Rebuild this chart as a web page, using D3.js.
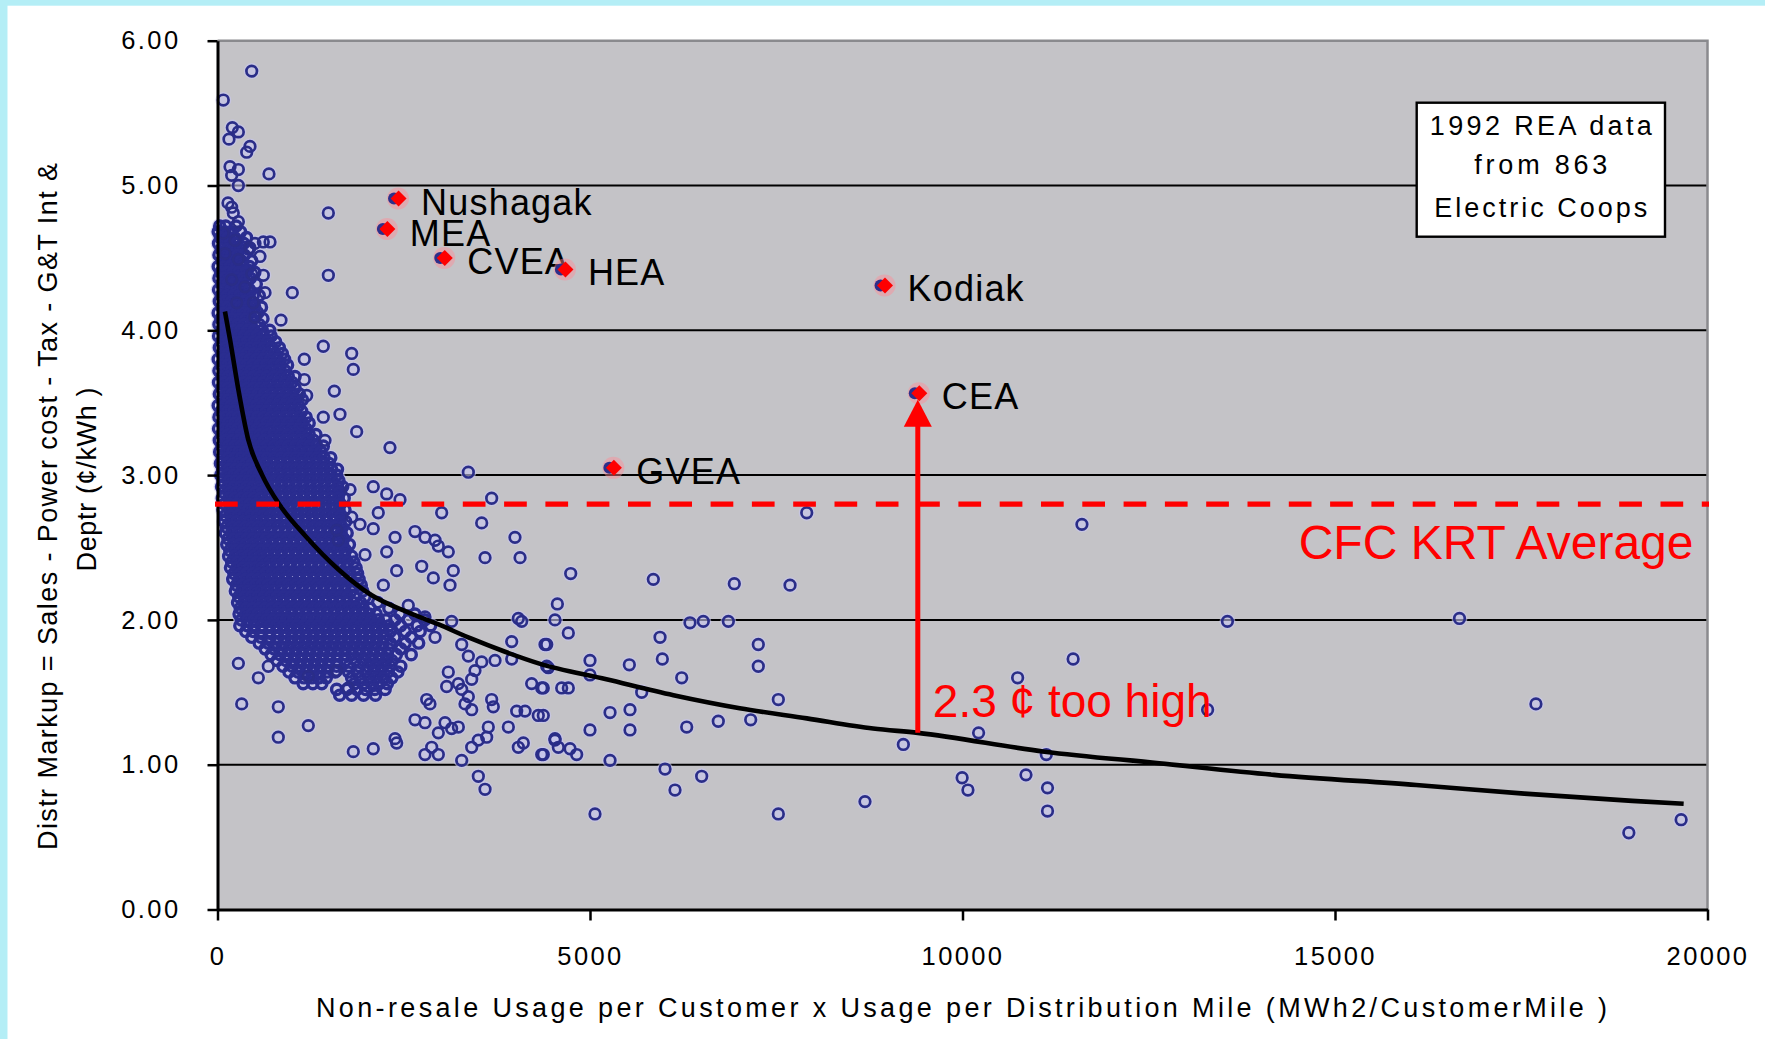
<!DOCTYPE html>
<html>
<head>
<meta charset="utf-8">
<script src="https://cdn.jsdelivr.net/npm/d3@7"></script>
<style>
  html, body { margin: 0; padding: 0; background: #ffffff; }
  svg { display: block; }
  text { font-family: "Liberation Sans", Arial, Helvetica, sans-serif; }
</style>
</head>
<body>
<svg id="chart" width="1765" height="1039"></svg>
<script>
// ---------------- data ----------------
const yTicks = [0, 1, 2, 3, 4, 5, 6];
const xTicks = [0, 5000, 10000, 15000, 20000];

// highlighted Alaska coops
const coopNames  = ["Nushagak", "MEA", "CVEA", "HEA", "Kodiak", "CEA", "GVEA"];
const coopUsage  = [2410, 2260, 3030, 4650, 8940, 9400, 5300];
const coopMarkup = [4.91, 4.70, 4.50, 4.42, 4.31, 3.565, 3.05];

// CFC KRT average markup (¢/kWh)
const krtAverage = 2.8;
// CEA markup above the trend line (¢/kWh) and trend value at CEA usage
const ceaExcess = 2.3;
const trendAtCea = 1.22;

// logarithmic trend line, read along its path
const trendUsage  = [100, 170, 280, 410, 600, 840, 1180, 1620, 2070, 2520, 2960, 3410, 3860, 4310,
                     5220, 6120, 7010, 7910, 8800, 9400, 11100, 12640, 14180, 16090, 17540, 18990, 19680];
const trendMarkup = [4.13, 3.93, 3.59, 3.25, 3.00, 2.79, 2.58, 2.35, 2.17, 2.06, 1.97, 1.87, 1.78, 1.70,
                     1.59, 1.48, 1.39, 1.32, 1.25, 1.22, 1.09, 1.01, 0.93, 0.86, 0.80, 0.75, 0.73];

// coops away from the main cloud: [usage, markup]
const outlierPoints = [
  [459,5.79],[78,5.59],[199,5.40],[154,5.32],[280,5.37],[436,5.27],[392,5.23],[168,5.13],[280,5.11],[190,5.07],
  [691,5.08],[280,5.00],[190,4.85],[212,4.81],[141,4.88],[1488,4.81],[280,4.75],[78,4.67],[235,4.62],[615,4.61],
  [705,4.61],[503,4.60],[436,4.57],[101,4.53],[280,4.49],[570,4.51],[615,4.38],[1488,4.38],[459,4.39],[190,4.35],
  [369,4.30],[638,4.26],[1004,4.26],[481,4.19],[258,4.19],[852,4.07],[503,4.09],
  [1420,3.89],[1801,3.84],[1823,3.73],[1165,3.80],[1165,3.66],[1197,3.55],[1568,3.58],[1420,3.40],[1644,3.42],
  [1868,3.30],[1443,3.24],[2315,3.19],[3367,3.02],
  [1779,2.90],[2091,2.92],[2271,2.87],[2450,2.83],[3680,2.84],[3009,2.74],[3546,2.67],[2091,2.63],[1913,2.66],
  [2383,2.57],[2651,2.61],[2785,2.57],[2920,2.55],[3098,2.47],[2964,2.51],[3993,2.57],[3591,2.43],[4061,2.43],
  [3165,2.34],[3121,2.24],[2897,2.29],[2741,2.37],[2405,2.34],[2271,2.47],[1980,2.45],[2226,2.24],[1622,2.55],
  [1600,2.62],[1801,2.71],[2158,2.74],[7909,2.74],[11603,2.66],
  [4741,2.32],[5850,2.28],[6937,2.25],[7685,2.24],[4562,2.11],[4530,2.00],[4083,1.99],[4038,2.01],[4709,1.91],
  [4419,1.83],[5940,1.88],[6342,1.98],[6521,1.99],[6857,1.99],[7259,1.83],[7259,1.68],[5000,1.72],[5000,1.62],
  [5528,1.69],[5971,1.73],[6231,1.60],[4419,1.68],[5694,1.50],[4709,1.53],[4373,1.53],[7528,1.45],[5269,1.36],
  [5537,1.38],[4373,1.34],[5000,1.24],[5537,1.24],[6298,1.26],[6722,1.30],[7157,1.31],[9206,1.14],[4530,1.17],
  [4732,1.11],[4821,1.07],[4373,1.07],[5269,1.03],[6007,0.97],[6499,0.92],[6141,0.825],[5067,0.66],[7528,0.66],
  [8691,0.745],[13556,1.99],[11485,1.73],[10740,1.60],[13290,1.38],[10216,1.22],[11125,1.07],[10852,0.93],
  [11141,0.84],[11141,0.68],[9995,0.91],[10073,0.825],[16671,2.01],[17697,1.42],[18944,0.53],[19646,0.62],
  [3098,1.64],[3076,1.54],[3278,1.52],[3367,1.47],[3322,1.42],[3412,1.38],[3233,1.56],[3412,1.59],[3456,1.65],
  [3278,1.83],[3367,1.75],[3546,1.71],[3725,1.72],[3949,1.85],[3949,1.73],[4396,1.83],[4440,1.67],[4217,1.56],
  [4352,1.53],[4620,1.53],[3143,1.99],[2920,1.88],[2785,2.02],[2561,2.10],[4016,1.37],[4128,1.37],[4306,1.34],
  [3680,1.45],[3702,1.40],[3501,0.92],[3591,0.83],
  [280,1.70],[682,1.68],[548,1.60],[1219,1.61],[1600,1.65],[1756,1.53],[325,1.42],[816,1.40],[1219,1.27],
  [816,1.19],[1823,1.09],[2091,1.11],[2383,1.18],[2405,1.15],[2651,1.31],[2785,1.29],[2852,1.42],[2808,1.45],
  [3054,1.29],[3143,1.25],[3233,1.26],[2964,1.22],[2875,1.12],[2785,1.07],[2964,1.07],[3278,1.03],[3412,1.12],
  [3501,1.17],[3613,1.19],[3635,1.26],[3904,1.26],[4038,1.12],[4105,1.15],[4352,1.07],[4530,1.18],[4575,1.12]
];

// main cloud of small coops, one row per markup level: [markup, usage, usage, ...]
const clusterRows = [
  [4.72, 30, 110, 250],
  [4.68, 10, 95, 180, 310],
  [4.64, 40, 140, 230, 390],
  [4.60, 15, 90, 170, 260, 350],
  [4.56, 50, 130, 215, 300, 420],
  [4.52, 20, 100, 185, 270, 360],
  [4.48, 60, 140, 230, 320, 460],
  [4.44, 10, 90, 170, 255, 340, 430],
  [4.40, 45, 125, 210, 290, 380, 500],
  [4.36, 20, 100, 180, 265, 350, 440],
  [4.32, 55, 140, 220, 305, 395, 520],
  [4.28, 15, 95, 175, 260, 345, 430],
  [4.24, 50, 130, 215, 300, 390, 480, 560],
  [4.20, 25, 105, 190, 275, 360, 450],
  [4.16, 60, 140, 225, 310, 400, 500, 590],
  [4.12, 10, 90, 175, 260, 345, 430, 540],
  [4.08, 45, 125, 210, 295, 385, 470, 610],
  [4.04, 20, 100, 185, 270, 355, 450, 560],
  [4.00, 55, 140, 225, 310, 400, 490, 600, 700],
  [3.96, 15, 100, 185, 270, 355, 440, 530, 620, 720],
  [3.92, 55, 140, 225, 310, 395, 485, 575, 670, 780],
  [3.88, 25, 110, 195, 280, 365, 450, 540, 630, 730, 830],
  [3.84, 60, 145, 230, 315, 400, 490, 580, 675, 770, 870],
  [3.80, 10, 95, 180, 265, 350, 435, 525, 615, 710, 805, 900],
  [3.76, 50, 135, 220, 305, 390, 475, 565, 655, 750, 845, 940],
  [3.72, 20, 105, 190, 275, 360, 445, 535, 625, 720, 815, 910],
  [3.68, 60, 145, 230, 315, 400, 485, 575, 665, 760, 855, 950, 1040],
  [3.64, 15, 100, 185, 270, 355, 440, 530, 620, 715, 810, 905, 1000],
  [3.60, 55, 140, 225, 310, 395, 480, 570, 660, 755, 850, 945, 1040],
  [3.56, 25, 110, 195, 280, 365, 450, 540, 630, 725, 820, 915, 1010, 1100],
  [3.52, 60, 145, 230, 315, 400, 485, 575, 665, 760, 855, 950, 1045, 1140],
  [3.48, 10, 95, 180, 265, 350, 435, 525, 615, 710, 805, 900, 995, 1090],
  [3.44, 50, 135, 220, 305, 390, 475, 565, 655, 750, 845, 940, 1035, 1130],
  [3.40, 20, 105, 190, 275, 360, 445, 535, 625, 720, 815, 910, 1005, 1100, 1190],
  [3.36, 60, 145, 230, 315, 400, 485, 575, 665, 760, 855, 950, 1045, 1140, 1230],
  [3.32, 15, 100, 185, 270, 355, 440, 530, 620, 715, 810, 905, 1000, 1095, 1190],
  [3.28, 55, 140, 225, 310, 395, 480, 570, 660, 755, 850, 945, 1040, 1135, 1230, 1320],
  [3.24, 25, 110, 195, 280, 365, 450, 540, 630, 725, 820, 915, 1010, 1105, 1200, 1290],
  [3.20, 60, 145, 230, 315, 400, 485, 575, 665, 760, 855, 950, 1045, 1140, 1235, 1330, 1420],
  [3.16, 30, 115, 200, 285, 370, 455, 545, 635, 730, 825, 920, 1015, 1110, 1205, 1300, 1390],
  [3.12, 65, 150, 235, 320, 405, 490, 580, 670, 765, 860, 955, 1050, 1145, 1240, 1335, 1430, 1520],
  [3.08, 40, 125, 210, 295, 380, 465, 555, 645, 740, 835, 930, 1025, 1120, 1215, 1310, 1405, 1500],
  [3.04, 70, 155, 240, 325, 410, 495, 585, 675, 770, 865, 960, 1055, 1150, 1245, 1340, 1435, 1530, 1610],
  [3.00, 45, 130, 215, 300, 385, 470, 560, 650, 745, 840, 935, 1030, 1125, 1220, 1315, 1410, 1505, 1600],
  [2.96, 75, 160, 245, 330, 415, 500, 590, 680, 775, 870, 965, 1060, 1155, 1250, 1345, 1440, 1535, 1630],
  [2.92, 55, 140, 225, 310, 395, 480, 570, 660, 755, 850, 945, 1040, 1135, 1230, 1325, 1420, 1515, 1610, 1680],
  [2.88, 85, 170, 255, 340, 425, 510, 600, 690, 785, 880, 975, 1070, 1165, 1260, 1355, 1450, 1545, 1640],
  [2.84, 65, 150, 235, 320, 405, 490, 580, 670, 765, 860, 955, 1050, 1145, 1240, 1335, 1430, 1525, 1620, 1700],
  [2.80, 95, 180, 265, 350, 435, 520, 610, 700, 795, 890, 985, 1080, 1175, 1270, 1365, 1460, 1555, 1650],
  [2.76, 75, 160, 245, 330, 415, 500, 590, 680, 775, 870, 965, 1060, 1155, 1250, 1345, 1440, 1535, 1630, 1710],
  [2.72, 105, 190, 275, 360, 445, 530, 620, 710, 805, 900, 995, 1090, 1185, 1280, 1375, 1470, 1565, 1660],
  [2.68, 90, 175, 260, 345, 430, 515, 605, 695, 790, 885, 980, 1075, 1170, 1265, 1360, 1455, 1550, 1645, 1720],
  [2.64, 120, 205, 290, 375, 460, 545, 635, 725, 820, 915, 1010, 1105, 1200, 1295, 1390, 1485, 1580, 1675],
  [2.60, 105, 190, 275, 360, 445, 530, 620, 710, 805, 900, 995, 1090, 1185, 1280, 1375, 1470, 1565, 1660, 1740],
  [2.56, 140, 225, 310, 395, 480, 565, 655, 745, 840, 935, 1030, 1125, 1220, 1315, 1410, 1505, 1600, 1695],
  [2.52, 125, 210, 295, 380, 465, 550, 640, 730, 825, 920, 1015, 1110, 1205, 1300, 1395, 1490, 1585, 1680, 1770],
  [2.48, 165, 250, 335, 420, 505, 590, 680, 770, 865, 960, 1055, 1150, 1245, 1340, 1435, 1530, 1625, 1720],
  [2.44, 150, 235, 320, 405, 490, 575, 665, 755, 850, 945, 1040, 1135, 1230, 1325, 1420, 1515, 1610, 1705, 1800],
  [2.40, 190, 275, 360, 445, 530, 615, 705, 795, 890, 985, 1080, 1175, 1270, 1365, 1460, 1555, 1650, 1745, 1830],
  [2.36, 175, 260, 345, 430, 515, 600, 690, 780, 875, 970, 1065, 1160, 1255, 1350, 1445, 1540, 1635, 1730, 1860],
  [2.32, 220, 305, 390, 475, 560, 645, 735, 825, 920, 1015, 1110, 1205, 1300, 1395, 1490, 1585, 1680, 1775, 1880],
  [2.28, 205, 290, 375, 460, 545, 630, 720, 810, 905, 1000, 1095, 1190, 1285, 1380, 1475, 1570, 1665, 1760, 1900],
  [2.24, 255, 340, 425, 510, 595, 680, 770, 860, 955, 1050, 1145, 1240, 1335, 1430, 1525, 1620, 1715, 1810, 1930],
  [2.20, 240, 325, 410, 495, 580, 665, 755, 845, 940, 1035, 1130, 1225, 1320, 1415, 1510, 1605, 1700, 1795, 1950],
  [2.16, 285, 370, 455, 540, 625, 710, 800, 890, 985, 1080, 1175, 1270, 1365, 1460, 1555, 1650, 1745, 1840, 1980],
  [2.12, 270, 355, 440, 525, 610, 695, 785, 875, 970, 1065, 1160, 1255, 1350, 1445, 1540, 1635, 1730, 1825, 1920, 2150],
  [2.08, 305, 390, 475, 560, 645, 730, 820, 910, 1005, 1100, 1195, 1290, 1385, 1480, 1575, 1670, 1765, 1860, 1955, 2050, 2300],
  [2.04, 290, 375, 460, 545, 630, 715, 805, 895, 990, 1085, 1180, 1275, 1370, 1465, 1560, 1655, 1750, 1845, 1940, 2035, 2130, 2450, 2650],
  [2.00, 320, 405, 490, 575, 660, 745, 835, 925, 1020, 1115, 1210, 1305, 1400, 1495, 1590, 1685, 1780, 1875, 1970, 2065, 2160, 2260, 2380, 2560, 2780],
  [1.96, 300, 400, 500, 600, 700, 790, 880, 970, 1065, 1160, 1255, 1350, 1445, 1540, 1635, 1730, 1825, 1920, 2015, 2110, 2205, 2300, 2460, 2680, 2860],
  [1.92, 380, 480, 590, 700, 800, 895, 990, 1085, 1180, 1275, 1370, 1465, 1560, 1655, 1750, 1845, 1940, 2035, 2130, 2225, 2320, 2520, 2720],
  [1.88, 460, 580, 700, 810, 910, 1005, 1100, 1195, 1290, 1385, 1480, 1575, 1670, 1765, 1860, 1955, 2050, 2145, 2240, 2380, 2600],
  [1.84, 560, 680, 790, 890, 985, 1080, 1175, 1270, 1365, 1460, 1555, 1650, 1745, 1840, 1935, 2030, 2125, 2220, 2320, 2520, 2700],
  [1.80, 640, 760, 865, 960, 1055, 1150, 1245, 1340, 1435, 1530, 1625, 1720, 1815, 1910, 2005, 2100, 2200, 2300, 2460],
  [1.76, 720, 840, 945, 1040, 1135, 1230, 1325, 1420, 1515, 1610, 1705, 1800, 1895, 1990, 2085, 2180, 2280, 2400, 2600],
  [1.72, 800, 920, 1025, 1120, 1215, 1310, 1405, 1500, 1600, 1720, 1850, 1960, 2060, 2160, 2260, 2340],
  [1.68, 880, 1000, 1105, 1200, 1295, 1390, 1485, 1600, 1760, 1900, 2020, 2120, 2220, 2320, 2460],
  [1.64, 960, 1080, 1185, 1280, 1375, 1470, 1580, 1760, 1880, 1990, 2090, 2190, 2290, 2420],
  [1.60, 1040, 1160, 1265, 1360, 1460, 1800, 1920, 2030, 2130, 2230, 2340],
  [1.56, 1150, 1280, 1400, 1840, 1960, 2070, 2170, 2280],
  [1.52, 1600, 1740, 1870, 1990, 2110, 2250],
  [1.48, 1640, 1800, 1960, 2120]
];

const noteLines = ["1992 REA data", "from 863", "Electric Coops"];
const xTitle = "Non-resale Usage per Customer x Usage per Distribution Mile (MWh2/CustomerMile )";
const yTitleLines = ["Distr Markup = Sales - Power cost - Tax - G&T Int &", "Deptr (¢/kWh )"];

// ---------------- drawing ----------------
const svg = d3.select("#chart");
const W = 1765, H = 1039;

// page frame
svg.append("rect").attr("width", W).attr("height", H).attr("fill", "#b4eef6");
svg.append("rect").attr("x", 7.5).attr("y", 5.7).attr("width", W).attr("height", H).attr("fill", "#ffffff");

const x = d3.scaleLinear().domain([0, 20000]).range([217.5, 1707.5]);
const y = d3.scaleLinear().domain([0, 6]).range([909.5, 40.7]);
const [x0, x1] = x.range();
const [yb, yt] = y.range();

// plot area
svg.append("rect")
  .attr("x", x0).attr("y", yt).attr("width", x1 - x0).attr("height", yb - yt)
  .attr("fill", "#c4c3c7");

// horizontal gridlines
svg.append("g").selectAll("line")
  .data(yTicks.filter(d => d > 0 && d < 6))
  .join("line")
  .attr("x1", x0).attr("x2", x1)
  .attr("y1", d => y(d)).attr("y2", d => y(d))
  .attr("stroke", "#000").attr("stroke-width", 2);

// top and right frame
svg.append("path")
  .attr("d", `M${x0},${yt}H${x1}V${yb}`)
  .attr("fill", "none").attr("stroke", "#8a8a8e").attr("stroke-width", 2.5);

// scatter points
const cloud = [];
clusterRows.forEach(row => {
  const m = row[0];
  row.slice(1).forEach(u => cloud.push([u, m]));
});
const allPoints = cloud.concat(outlierPoints);

// soft lavender glow behind every marker
const gHalo = svg.append("g");
gHalo.selectAll("circle").data(allPoints).join("circle")
  .attr("cx", d => x(d[0])).attr("cy", d => y(d[1]))
  .attr("r", 8)
  .attr("fill", "#c8c7f0").attr("opacity", 0.6);

// hollow circle markers: heavier rings in the dense cloud
const gPts = svg.append("g");
gPts.selectAll("circle.cloud").data(cloud).join("circle")
  .attr("class", "cloud")
  .attr("cx", d => x(d[0])).attr("cy", d => y(d[1]))
  .attr("r", 5.1)
  .attr("fill", "none")
  .attr("stroke", "#2a2d90").attr("stroke-width", 3.4);
gPts.selectAll("circle.out").data(outlierPoints).join("circle")
  .attr("class", "out")
  .attr("cx", d => x(d[0])).attr("cy", d => y(d[1]))
  .attr("r", 5.3)
  .attr("fill", "none")
  .attr("stroke", "#2a2d88").attr("stroke-width", 2.7);

// axes
const yAxis = d3.axisLeft(y).tickValues(yTicks).tickFormat(d3.format(".2f"))
  .tickSize(10).tickSizeOuter(0).tickPadding(27);
const xAxis = d3.axisBottom(x).tickValues(xTicks).tickFormat(d3.format("d"))
  .tickSize(11).tickSizeOuter(0).tickPadding(26);

const gy = svg.append("g").attr("transform", `translate(${x0},0)`).call(yAxis);
const gx = svg.append("g").attr("transform", `translate(0,${yb})`).call(xAxis);
[gy, gx].forEach(g => {
  g.select(".domain").attr("stroke", "#000").attr("stroke-width", 3);
  g.selectAll(".tick line").attr("stroke", "#000").attr("stroke-width", 2.5);
  g.selectAll(".tick text")
    .attr("fill", "#000")
    .style("font-family", "'Liberation Sans', Arial, sans-serif")
    .style("font-size", "25.5px")
    .style("letter-spacing", "2.4px");
});

// trend line
const trend = trendUsage.map((u, i) => [u, trendMarkup[i]]);
svg.append("path")
  .datum(trend)
  .attr("d", d3.line().x(d => x(d[0])).y(d => y(d[1])).curve(d3.curveMonotoneX))
  .attr("fill", "none").attr("stroke", "#000").attr("stroke-width", 4.6);

// CFC KRT average
svg.append("line")
  .attr("x1", x0 - 2.5).attr("x2", x1 + 1.5)
  .attr("y1", y(krtAverage)).attr("y2", y(krtAverage))
  .attr("stroke", "#ff0000").attr("stroke-width", 5.2)
  .attr("stroke-dasharray", "22.7 18.6");

svg.append("text")
  .attr("x", x1 - 14).attr("y", y(krtAverage) + 55)
  .attr("text-anchor", "end")
  .attr("fill", "#ff0000")
  .style("font-size", "48px")
  .text("CFC KRT Average");

// highlighted coops
const coops = coopNames.map((n, i) => ({ name: n, u: coopUsage[i], m: coopMarkup[i] }));
const gC = svg.append("g");
const gc = gC.selectAll("g").data(coops).join("g")
  .attr("transform", d => `translate(${x(d.u)},${y(d.m)})`);
gc.append("circle").attr("r", 11).attr("fill", "#ff8c96").attr("opacity", 0.45).attr("cx", 1);
gc.append("circle").attr("r", 6).attr("cx", -3)
  .attr("fill", "#2d2f8a");
gc.append("path").attr("d", "M1.5,-8L9.5,0L1.5,8L-6.5,0Z").attr("fill", "#ff0000");
gc.append("text")
  .attr("x", 24).attr("y", d => d.name === "MEA" ? 17 : 16)
  .attr("fill", "#000")
  .style("font-size", "36px")
  .style("letter-spacing", "1.2px")
  .text(d => d.name);

// CEA gap arrow
const cea = coops.find(d => d.name === "CEA");
const ax = x(cea.u);
const tipY = y(trendAtCea + ceaExcess);
svg.append("line")
  .attr("x1", ax).attr("x2", ax)
  .attr("y1", y(trendAtCea)).attr("y2", tipY + 20)
  .attr("stroke", "#ff0000").attr("stroke-width", 5);
svg.append("path")
  .attr("d", `M${ax},${tipY}L${ax + 14},${tipY + 27}L${ax - 14},${tipY + 27}Z`)
  .attr("fill", "#ff0000");
svg.append("text")
  .attr("x", ax + 15).attr("y", y(trendAtCea) - 16)
  .attr("fill", "#ff0000")
  .style("font-size", "46px")
  .text(`${ceaExcess} ¢ too high`);

// note box
const note = svg.append("g");
note.append("rect")
  .attr("x", 1416.7).attr("y", 102.7).attr("width", 248.3).attr("height", 134)
  .attr("fill", "#ffffff").attr("stroke", "#000").attr("stroke-width", 2.4);
const noteLens = [222, 133, 213];
const noteBase = [135, 174, 217];
note.selectAll("text").data(noteLines).join("text")
  .attr("x", 1540.8).attr("y", (d, i) => noteBase[i])
  .attr("text-anchor", "middle")
  .attr("textLength", (d, i) => noteLens[i])
  .attr("lengthAdjust", "spacing")
  .attr("fill", "#000")
  .style("font-size", "27px")
  .text(d => d);

// axis titles
svg.append("text")
  .attr("x", 961.5).attr("y", 1017)
  .attr("text-anchor", "middle")
  .attr("textLength", 1291).attr("lengthAdjust", "spacing")
  .attr("fill", "#000")
  .style("font-size", "27px")
  .text(xTitle);

const yTitlePos = [[57, 506.5, 687], [96, 479.5, 184]];
yTitleLines.forEach((t, i) => {
  const [tx, ty, len] = yTitlePos[i];
  svg.append("text")
    .attr("transform", `translate(${tx},${ty}) rotate(-90)`)
    .attr("text-anchor", "middle")
    .attr("textLength", len).attr("lengthAdjust", "spacing")
    .attr("fill", "#000")
    .style("font-size", "27px")
    .text(t);
});
</script>
</body>
</html>
